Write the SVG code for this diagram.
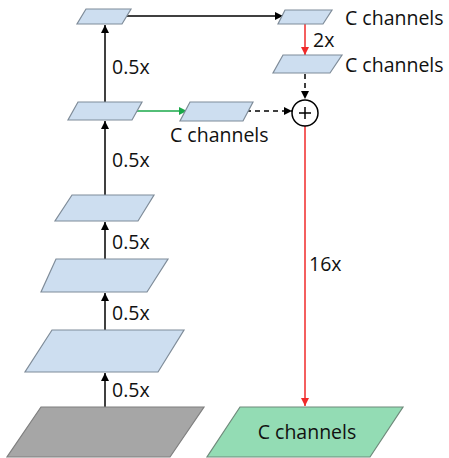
<svg xmlns="http://www.w3.org/2000/svg" width="449" height="458" viewBox="0 0 449 458">
<style>
.blue{fill:#cddef0;stroke:#7f8c99;stroke-width:1.2}
.gray{fill:#a6a6a6;stroke:#7f7f7f;stroke-width:1.2}
.green{fill:#93dcb4;stroke:#6f8a7b;stroke-width:1.2}
text{font-family:"Open Sans","Noto Sans","Liberation Sans",sans-serif;font-size:19.5px;fill:#111}
.k{stroke:#000;stroke-width:1.5;fill:none}
.r{stroke:#f02a2a;stroke-width:1.5;fill:none}
.g{stroke:#1aa84a;stroke-width:1.5;fill:none}
.d{stroke:#000;stroke-width:1.5;fill:none;stroke-dasharray:5,4}
</style>
<defs>
<marker id="ak" viewBox="0 0 10 10" refX="10" refY="5" markerWidth="8" markerHeight="8" markerUnits="userSpaceOnUse" orient="auto"><path d="M0,0L10,5L0,10z" fill="#000"/></marker>
<marker id="ar" viewBox="0 0 10 10" refX="10" refY="5" markerWidth="8" markerHeight="8" markerUnits="userSpaceOnUse" orient="auto"><path d="M0,0L10,5L0,10z" fill="#f02a2a"/></marker>
<marker id="ag" viewBox="0 0 10 10" refX="10" refY="5" markerWidth="8" markerHeight="8" markerUnits="userSpaceOnUse" orient="auto"><path d="M0,0L10,5L0,10z" fill="#1aa84a"/></marker>
</defs>
<g id="connectors">
<line class="k" x1="105" y1="407" x2="105" y2="373" marker-end="url(#ak)"/>
<line class="k" x1="105" y1="330" x2="105" y2="293" marker-end="url(#ak)"/>
<line class="k" x1="105" y1="259" x2="105" y2="222" marker-end="url(#ak)"/>
<line class="k" x1="105" y1="195" x2="105" y2="121" marker-end="url(#ak)"/>
<line class="k" x1="105" y1="102" x2="105" y2="25" marker-end="url(#ak)"/>
<line class="k" x1="127" y1="16" x2="283" y2="16" marker-end="url(#ak)"/>
<line class="g" x1="137" y1="111" x2="187" y2="111" marker-end="url(#ag)"/>
<line class="d" x1="246" y1="111" x2="292" y2="111" marker-end="url(#ak)"/>
<line class="r" x1="305" y1="24" x2="305" y2="55" marker-end="url(#ar)"/>
<line class="d" x1="305" y1="74" x2="305" y2="99" marker-end="url(#ak)"/>
<line class="r" x1="305" y1="126" x2="305" y2="406" marker-end="url(#ar)"/>
<text x="112" y="74">0.5x</text>
<text x="112" y="167">0.5x</text>
<text x="112" y="249">0.5x</text>
<text x="112" y="320">0.5x</text>
<text x="112" y="397">0.5x</text>
<text x="313" y="47">2x</text>
<text x="309" y="271">16x</text>
</g>
<g id="p1"><polygon class="blue" points="86,9 131,9 122,24 77,24"/></g>
<g id="p2"><polygon class="blue" points="78,102 142,102 132,120 68,120"/></g>
<g id="p3"><polygon class="blue" points="72,195 154,195 138,221 55,221"/></g>
<g id="p4"><polygon class="blue" points="56,259 168,259 147,292 41,292"/></g>
<g id="p5"><polygon class="blue" points="52,330 184,330 158,372 25,372"/></g>
<g id="input"><polygon class="gray" points="41,407 204,407 170,457 7,457"/></g>
<g id="t1"><polygon class="blue" points="285,10 332,10 323,24 278,24"/><text x="345" y="25">C channels</text></g>
<g id="t2"><polygon class="blue" points="283,55 342,55 330,73 273,73"/><text x="345" y="72">C channels</text></g>
<g id="m1"><polygon class="blue" points="190,102 253,102 243,121 180,121"/><text x="170" y="142">C channels</text></g>
<g id="sum"><circle cx="305" cy="113" r="13" fill="#fff" stroke="#000" stroke-width="1.5"/><path d="M299,113H311M305,107V119" stroke="#000" stroke-width="1.5"/></g>
<g id="out"><polygon class="green" points="240,407 403,407 370,457 207,457"/><text x="307" y="439" text-anchor="middle">C channels</text></g>
</svg>
